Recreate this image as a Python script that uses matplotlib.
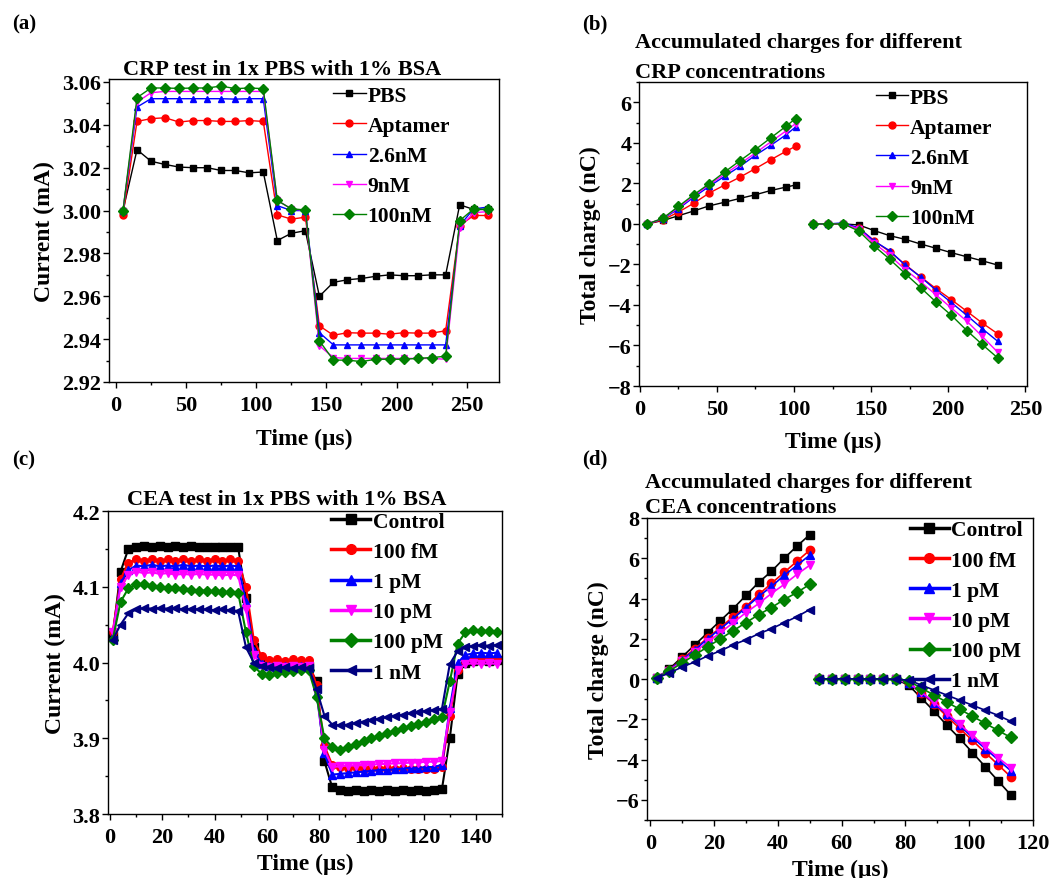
import numpy as np
import matplotlib
matplotlib.use('Agg')
import matplotlib.pyplot as plt
from matplotlib.ticker import MultipleLocator, AutoMinorLocator, FormatStrFormatter

plt.rcParams['font.family'] = ['Liberation Serif', 'DejaVu Serif']
plt.rcParams['font.weight'] = 'bold'
plt.rcParams['axes.labelweight'] = 'bold'

# ---------------- data ----------------
# (a) CRP current
t_a = [5, 15, 25, 35, 45, 55, 65, 75, 85, 95, 105, 115, 125, 135, 145, 155, 165, 175, 185, 195, 205, 215, 225, 235, 245, 255, 265]
a_labels = ['PBS', 'Aptamer', '2.6nM', '9nM', '100nM']
a_pbs = [3.000, 3.0284, 3.023, 3.0215, 3.0203, 3.020, 3.020, 3.0187, 3.0187, 3.0176, 3.018, 2.986, 2.9894, 2.9906,
         2.960, 2.9665, 2.9677, 2.9683, 2.9693, 2.970, 2.9696, 2.9696, 2.970, 2.970, 3.0027, 3.0005, 3.0005]
a_apt = [2.998, 3.0416, 3.0429, 3.0433, 3.0413, 3.042, 3.042, 3.0416, 3.0416, 3.042, 3.0416, 2.998, 2.996, 2.9969,
         2.9462, 2.9418, 2.943, 2.9428, 2.9428, 2.9423, 2.943, 2.9428, 2.9428, 2.9439, 2.993, 2.9977, 2.9977]
a_26 = [3.000, 3.0483, 3.0522, 3.0522, 3.0522, 3.0522, 3.0522, 3.0522, 3.0520, 3.0522, 3.0522, 3.0023, 3.000, 3.000,
        2.943, 2.9373, 2.9373, 2.9373, 2.9373, 2.9373, 2.9373, 2.9373, 2.9373, 2.9373, 2.993, 3.0008, 3.0016]
a_9 = [3.000, 3.0506, 3.055, 3.0556, 3.0556, 3.0556, 3.0556, 3.0556, 3.0556, 3.0556, 3.0556, 3.0047, 3.0008, 3.000,
       2.9369, 2.9314, 2.931, 2.931, 2.931, 2.931, 2.931, 2.931, 2.931, 2.9306, 2.992, 2.999, 2.9995]
a_100 = [3.000, 3.0527, 3.0572, 3.0572, 3.0570, 3.0572, 3.0572, 3.0581, 3.0569, 3.0572, 3.0569, 3.0047, 3.0008, 3.0003,
         2.9392, 2.9302, 2.9302, 2.9295, 2.9306, 2.9306, 2.9306, 2.931, 2.9314, 2.932, 2.9953, 3.0008, 3.0005]

# (b) CRP accumulated charge
t_b1 = [5, 15, 25, 35, 45, 55, 65, 75, 85, 95, 101]
t_b2 = [112, 122, 132, 142, 152, 162, 172, 182, 192, 202, 212, 222, 232]
b1_pbs = [0, 0.17, 0.40, 0.64, 0.89, 1.07, 1.26, 1.44, 1.65, 1.82, 1.92]
b1_apt = [0, 0.20, 0.58, 1.02, 1.52, 1.92, 2.31, 2.73, 3.17, 3.59, 3.83]
b1_26 = [0, 0.25, 0.74, 1.32, 1.85, 2.35, 2.84, 3.39, 3.88, 4.41, 4.78]
b1_9 = [0, 0.27, 0.80, 1.38, 1.93, 2.45, 2.97, 3.50, 4.05, 4.60, 4.95]
b1_100 = [0, 0.28, 0.86, 1.44, 1.98, 2.56, 3.12, 3.67, 4.25, 4.83, 5.20]
b2_pbs = [0, 0, 0, -0.05, -0.33, -0.58, -0.76, -0.99, -1.20, -1.42, -1.62, -1.82, -2.03]
b2_apt = [0, 0, 0, -0.20, -0.83, -1.37, -2.00, -2.61, -3.19, -3.74, -4.31, -4.89, -5.42]
b2_26 = [0, 0, 0.05, -0.20, -0.85, -1.32, -2.03, -2.61, -3.27, -3.88, -4.51, -5.17, -5.79]
b2_9 = [0, 0, 0, -0.25, -0.95, -1.55, -2.25, -2.85, -3.50, -4.15, -4.80, -5.55, -6.33]
b2_100 = [0, 0, 0, -0.35, -1.09, -1.74, -2.45, -3.14, -3.85, -4.51, -5.26, -5.95, -6.61]

# (c) CEA current, sampled every 3 us from t = 1 us
t_c = np.arange(1, 150, 3)
c_labels = ['Control', '100 fM', '1 pM', '10 pM', '100 pM', '1 nM']
c_ctrl = [4.035, 4.120, 4.150, 4.153, 4.154, 4.153, 4.154, 4.153, 4.154, 4.153, 4.154, 4.153, 4.153, 4.152, 4.153, 4.152, 4.152,
          4.085, 4.020, 4.000, 3.996, 3.995, 3.996, 3.995, 3.996, 3.995, 3.975, 3.870, 3.835, 3.832, 3.831, 3.832, 3.831,
          3.832, 3.831, 3.832, 3.831, 3.832, 3.831, 3.832, 3.831, 3.832, 3.833, 3.900, 3.985, 4.000, 4.002, 4.003, 4.002, 4.003]
c_100f = [4.040, 4.110, 4.132, 4.136, 4.134, 4.137, 4.134, 4.136, 4.134, 4.137, 4.134, 4.136, 4.134, 4.137, 4.134, 4.136, 4.134,
          4.100, 4.030, 4.008, 4.003, 4.004, 4.002, 4.004, 4.003, 4.003, 3.970, 3.890, 3.865, 3.862, 3.861, 3.862, 3.860,
          3.861, 3.860, 3.861, 3.860, 3.861, 3.859, 3.860, 3.859, 3.860, 3.862, 3.930, 3.990, 4.005, 4.006, 4.005, 4.006, 4.004]
c_1p = [4.035, 4.105, 4.122, 4.128, 4.127, 4.129, 4.127, 4.128, 4.127, 4.129, 4.127, 4.128, 4.127, 4.128, 4.127, 4.128, 4.127,
        4.080, 4.015, 3.998, 3.996, 3.995, 3.996, 3.995, 3.996, 3.995, 3.960, 3.880, 3.852, 3.853, 3.854, 3.855, 3.856,
        3.857, 3.858, 3.858, 3.859, 3.860, 3.861, 3.861, 3.862, 3.862, 3.865, 3.940, 4.000, 4.010, 4.012, 4.013, 4.012, 4.013]
c_10p = [4.040, 4.100, 4.115, 4.120, 4.118, 4.119, 4.117, 4.118, 4.116, 4.117, 4.116, 4.117, 4.116, 4.116, 4.115, 4.116, 4.115,
         4.070, 4.010, 3.996, 3.994, 3.995, 3.994, 3.995, 3.994, 3.995, 3.960, 3.885, 3.862, 3.863, 3.864, 3.864, 3.865,
         3.865, 3.866, 3.866, 3.867, 3.867, 3.868, 3.868, 3.869, 3.869, 3.870, 3.935, 3.990, 3.998, 3.999, 3.998, 3.999, 3.998]
c_100p = [4.030, 4.080, 4.098, 4.103, 4.104, 4.101, 4.100, 4.099, 4.098, 4.097, 4.096, 4.095, 4.095, 4.094, 4.093, 4.093, 4.092,
          4.040, 3.995, 3.985, 3.984, 3.986, 3.987, 3.989, 3.990, 3.990, 3.955, 3.900, 3.888, 3.885, 3.888, 3.892, 3.896,
          3.900, 3.903, 3.907, 3.910, 3.913, 3.916, 3.919, 3.922, 3.925, 3.928, 3.975, 4.025, 4.040, 4.043, 4.042, 4.041, 4.040]
c_1n = [4.030, 4.050, 4.065, 4.070, 4.072, 4.071, 4.072, 4.071, 4.072, 4.070, 4.071, 4.070, 4.070, 4.069, 4.070, 4.069, 4.068,
        4.020, 4.000, 3.996, 3.994, 3.993, 3.994, 3.993, 3.994, 3.993, 3.965, 3.930, 3.918, 3.917, 3.918, 3.920, 3.922,
        3.924, 3.926, 3.928, 3.930, 3.931, 3.933, 3.935, 3.936, 3.937, 3.939, 3.998, 4.015, 4.020, 4.022, 4.023, 4.022, 4.023]

# (d) CEA accumulated charge
t_d1 = np.arange(2, 51, 4)
t_d2 = np.arange(53, 114, 4)
d1_ctrl = [0.05, 0.5, 1.1, 1.7, 2.3, 2.9, 3.5, 4.15, 4.8, 5.35, 6.0, 6.6, 7.17]
d1_100f = [0.05, 0.45, 1.0, 1.5, 2.05, 2.55, 3.1, 3.6, 4.2, 4.75, 5.3, 5.85, 6.4]
d1_1p = [0.05, 0.45, 0.95, 1.45, 2.0, 2.5, 3.0, 3.55, 4.1, 4.6, 5.15, 5.65, 6.15]
d1_10p = [0.05, 0.42, 0.9, 1.35, 1.85, 2.3, 2.8, 3.3, 3.75, 4.25, 4.7, 5.2, 5.65]
d1_100p = [0.05, 0.4, 0.8, 1.2, 1.6, 2.0, 2.4, 2.8, 3.2, 3.55, 3.95, 4.3, 4.7]
d1_1n = [0.05, 0.3, 0.6, 0.85, 1.15, 1.4, 1.7, 1.95, 2.25, 2.5, 2.8, 3.1, 3.45]
d2_ctrl = [0.02, 0.0, 0.02, 0.0, 0.01, 0.0, -0.02, -0.3, -0.95, -1.6, -2.3, -2.95, -3.65, -4.35, -5.05, -5.75]
d2_100f = [0.02, 0.0, 0.02, 0.0, 0.01, 0.0, -0.02, -0.2, -0.7, -1.25, -1.85, -2.45, -3.05, -3.65, -4.25, -4.85]
d2_1p = [0.02, 0.0, 0.02, 0.0, 0.01, 0.0, -0.02, -0.2, -0.65, -1.2, -1.75, -2.3, -2.9, -3.45, -4.0, -4.55]
d2_10p = [0.02, 0.0, 0.02, 0.0, 0.01, 0.0, -0.02, -0.2, -0.65, -1.15, -1.7, -2.25, -2.8, -3.35, -3.9, -4.4]
d2_100p = [0.02, 0.0, 0.02, 0.0, 0.01, 0.0, -0.02, -0.1, -0.45, -0.8, -1.15, -1.5, -1.85, -2.2, -2.55, -2.9]
d2_1n = [0.02, 0.0, 0.02, 0.0, 0.01, 0.0, -0.02, -0.05, -0.3, -0.55, -0.8, -1.05, -1.3, -1.55, -1.8, -2.1]

# ---------------- styles ----------------
a_colors = ['black', 'red', 'blue', 'magenta', '#008000']
a_markers = ['s', 'o', '^', 'v', 'D']
c_colors = ['black', 'red', 'blue', 'magenta', '#008000', '#000080']
c_markers = ['s', 'o', '^', 'v', 'D', '<']

TICK_FS = 16
LABEL_FS = 17
LEG_FS = 15.5
TITLE_FS = 16

fig = plt.figure(figsize=(10.63, 8.79), dpi=100)
ax_a = fig.add_axes([0.1025, 0.5643, 0.3669, 0.3447])
ax_b = fig.add_axes([0.6011, 0.5597, 0.3650, 0.3458])
ax_c = fig.add_axes([0.1016, 0.0728, 0.3707, 0.3447])
ax_d = fig.add_axes([0.6087, 0.0660, 0.3631, 0.3436])


def style_axes(ax):
    ax.tick_params(which='major', direction='out', length=4.5, width=1, labelsize=TICK_FS, top=False, right=False)
    ax.tick_params(which='minor', direction='out', length=2.5, width=1, top=False, right=False)
    ax.tick_params(axis='x', which='major', pad=5)
    ax.tick_params(axis='y', which='major', pad=1)
    ax.xaxis.set_minor_locator(AutoMinorLocator(2))
    ax.yaxis.set_minor_locator(AutoMinorLocator(2))
    for s in ax.spines.values():
        s.set_linewidth(1)
    for lab in ax.get_xticklabels() + ax.get_yticklabels():
        lab.set_fontweight('bold')


def add_legend(ax, x, y, hl, thick=False):
    leg = ax.legend(loc='upper left', bbox_to_anchor=(x, y), frameon=False, fontsize=LEG_FS,
                    borderpad=0, borderaxespad=0, handlelength=hl, handletextpad=0.1,
                    labelspacing=0.47)
    if thick:
        for h in leg.get_lines():
            h.set_linewidth(2.5)
            h.set_markersize(7)
    return leg


# (a)
for ys, lab, col, mk in zip([a_pbs, a_apt, a_26, a_9, a_100], a_labels, a_colors, a_markers):
    ax_a.plot(t_a, ys, color=col, marker=mk, markersize=5, lw=1, label=lab)
ax_a.set_xlim(-5, 273)
ax_a.set_ylim(2.92, 3.0614)
ax_a.xaxis.set_major_locator(MultipleLocator(50))
ax_a.yaxis.set_major_locator(MultipleLocator(0.02))
ax_a.yaxis.set_major_formatter(FormatStrFormatter('%.2f'))
style_axes(ax_a)
ax_a.set_xlabel('Time (\u03bcs)', fontsize=LABEL_FS, labelpad=9)
ax_a.set_ylabel('Current (mA)', fontsize=LABEL_FS, labelpad=5)
add_legend(ax_a, 0.575, 0.978, 1.5)
fig.text(0.265, 0.915, 'CRP test in 1x PBS with 1% BSA', ha='center', va='baseline', fontsize=TITLE_FS)

# (b)
for y1, y2, lab, col, mk in zip([b1_pbs, b1_apt, b1_26, b1_9, b1_100], [b2_pbs, b2_apt, b2_26, b2_9, b2_100],
                                a_labels, a_colors, a_markers):
    ax_b.plot(t_b1, y1, color=col, marker=mk, markersize=5, lw=1, label=lab)
    ax_b.plot(t_b2, y2, color=col, marker=mk, markersize=5, lw=1)
ax_b.set_xlim(-0.5, 251)
ax_b.set_ylim(-8, 7)
ax_b.xaxis.set_major_locator(MultipleLocator(50))
ax_b.yaxis.set_major_locator(MultipleLocator(2))
style_axes(ax_b)
ax_b.set_xlabel('Time (\u03bcs)', fontsize=LABEL_FS, labelpad=8)
ax_b.set_ylabel('Total charge (nC)', fontsize=LABEL_FS, labelpad=5)
add_legend(ax_b, 0.61, 0.982, 1.5)
fig.text(0.597, 0.945, 'Accumulated charges for different', ha='left', va='baseline', fontsize=TITLE_FS)
fig.text(0.597, 0.911, 'CRP concentrations', ha='left', va='baseline', fontsize=TITLE_FS)

# (c)
for ys, lab, col, mk in zip([c_ctrl, c_100f, c_1p, c_10p, c_100p, c_1n], c_labels, c_colors, c_markers):
    ax_c.plot(t_c, ys, color=col, marker=mk, markersize=5.5, lw=1.5, label=lab)
ax_c.set_xlim(-0.8, 150)
ax_c.set_ylim(3.8, 4.2)
ax_c.xaxis.set_major_locator(MultipleLocator(20))
ax_c.yaxis.set_major_locator(MultipleLocator(0.1))
ax_c.yaxis.set_major_formatter(FormatStrFormatter('%.1f'))
style_axes(ax_c)
ax_c.set_xlabel('Time (\u03bcs)', fontsize=LABEL_FS, labelpad=4)
ax_c.set_ylabel('Current (mA)', fontsize=LABEL_FS, labelpad=5)
add_legend(ax_c, 0.565, 0.998, 1.85, thick=True)
fig.text(0.27, 0.425, 'CEA test in 1x PBS with 1% BSA', ha='center', va='baseline', fontsize=TITLE_FS)

# (d)
for y1, y2, lab, col, mk in zip([d1_ctrl, d1_100f, d1_1p, d1_10p, d1_100p, d1_1n],
                                [d2_ctrl, d2_100f, d2_1p, d2_10p, d2_100p, d2_1n],
                                c_labels, c_colors, c_markers):
    ax_d.plot(t_d1, y1, color=col, marker=mk, markersize=6, lw=1.2, label=lab)
    ax_d.plot(t_d2, y2, color=col, marker=mk, markersize=6, lw=1.2)
ax_d.set_xlim(-1, 120)
ax_d.set_ylim(-7, 8)
ax_d.xaxis.set_major_locator(MultipleLocator(20))
ax_d.yaxis.set_major_locator(MultipleLocator(2))
style_axes(ax_d)
ax_d.set_xlabel('Time (\u03bcs)', fontsize=LABEL_FS, labelpad=4)
ax_d.set_ylabel('Total charge (nC)', fontsize=LABEL_FS, labelpad=5)
add_legend(ax_d, 0.68, 0.992, 1.85, thick=True)
fig.text(0.607, 0.445, 'Accumulated charges for different', ha='left', va='baseline', fontsize=TITLE_FS)
fig.text(0.607, 0.416, 'CEA concentrations', ha='left', va='baseline', fontsize=TITLE_FS)

# panel letters
fig.text(0.011, 0.967, '(a)', fontsize=15, va='baseline')
fig.text(0.548, 0.966, '(b)', fontsize=15, va='baseline')
fig.text(0.011, 0.471, '(c)', fontsize=15, va='baseline')
fig.text(0.548, 0.472, '(d)', fontsize=15, va='baseline')

fig.savefig('out.png', dpi=100)
